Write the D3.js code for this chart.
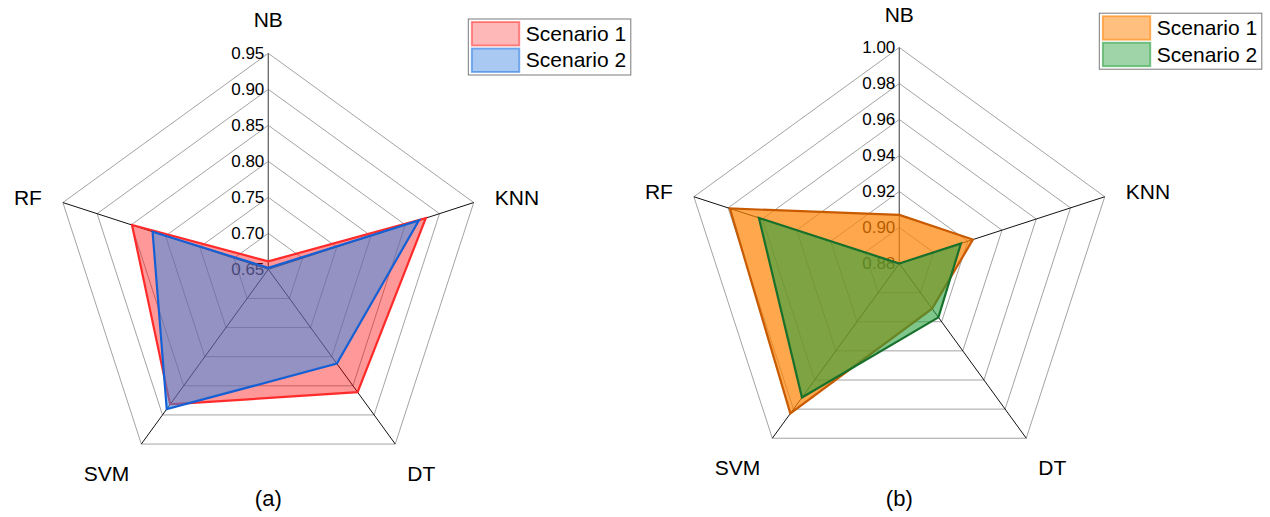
<!DOCTYPE html>
<html>
<head>
<meta charset="utf-8">
<script src="https://cdn.jsdelivr.net/npm/d3@7"></script>
<style>
  body { margin: 0; background: #fff; }
  svg { display: block; }
  text { font-family: "Liberation Sans", Arial, sans-serif; fill: #000; }
</style>
</head>
<body>
<svg id="chart" width="1270" height="517"></svg>
<script>
// Classifier axes, clockwise from the top
const categories = ["NB", "KNN", "DT", "SVM", "RF"];
const seriesNames = ["Scenario 1", "Scenario 2"];

// Panel (a) scores
const scoresA1 = [0.661, 0.880, 0.861, 0.882, 0.849];
const scoresA2 = [0.652, 0.870, 0.812, 0.890, 0.819];
// Panel (b) scores
const scoresB1 = [0.907, 0.923, 0.911, 0.983, 0.979];
const scoresB2 = [0.880, 0.916, 0.917, 0.972, 0.962];

// Radial tick labels
const ticksA = ["0.65", "0.70", "0.75", "0.80", "0.85", "0.90", "0.95"];
const ticksB = ["0.88", "0.90", "0.92", "0.94", "0.96", "0.98", "1.00"];

const panelTitles = ["(a)", "(b)"];

const svg = d3.select("#chart");
const R = 216;
const step = 2 * Math.PI / categories.length;

// Where each category name sits relative to its outer vertex
const labelPlace = [
  { anchor: "middle", dx: 0,   dy: -26 },
  { anchor: "start",  dx: 21,  dy: 2 },
  { anchor: "start",  dx: 12,  dy: 37 },
  { anchor: "end",    dx: -12, dy: 37 },
  { anchor: "end",    dx: -21, dy: 2 }
];

const panels = [
  {
    cx: 268.3, cy: 269.3, ticks: ticksA, title: panelTitles[0],
    series: [scoresA1, scoresA2],
    fills: ["rgb(255,0,0)", "rgb(40,140,235)"],
    fillOpacity: [0.4, 0.5],
    strokes: ["#ff2b2b", "#1560d4"],
    legendFill: ["rgb(255,0,0)", "rgb(40,120,225)"],
    legendFillOpacity: [0.28, 0.4],
    legendStrokeOpacity: [0.45, 0.6]
  },
  {
    cx: 899.3, cy: 263.5, ticks: ticksB, title: panelTitles[1],
    series: [scoresB1, scoresB2],
    fills: ["rgb(255,130,0)", "rgb(40,160,60)"],
    fillOpacity: [0.7, 0.6],
    strokes: ["#c85a00", "#17702c"],
    legendFill: ["rgb(255,130,0)", "rgb(40,160,60)"],
    legendFillOpacity: [0.5, 0.45],
    legendStrokeOpacity: [0.6, 0.6]
  }
];

panels.forEach(p => {
  const tv = p.ticks.map(Number);
  const r = d3.scaleLinear().domain([tv[0], tv[tv.length - 1]]).range([0, R]);
  const g = svg.append("g").attr("transform", `translate(${p.cx},${p.cy})`);

  const vertex = (i, rad) => [rad * Math.sin(i * step), -rad * Math.cos(i * step)];

  // Grid rings
  const ring = d3.lineRadial().angle((d, i) => i * step).radius(d => r(d)).curve(d3.curveLinearClosed);
  g.selectAll("path.ring").data(tv.slice(1)).join("path")
    .attr("class", "ring")
    .attr("d", t => ring(categories.map(() => t)))
    .attr("fill", "none")
    .attr("stroke", "#8c8c8c")
    .attr("stroke-width", 0.8);

  // Spokes
  categories.forEach((c, i) => {
    const [x, y] = vertex(i, R);
    g.append("line")
      .attr("x1", 0).attr("y1", 0).attr("x2", x).attr("y2", y)
      .attr("stroke", i === 0 ? "#666" : "#111")
      .attr("stroke-width", i === 0 ? 1.3 : 1);
  });

  // Tick labels along the NB axis
  g.selectAll("text.tick").data(p.ticks).join("text")
    .attr("class", "tick")
    .attr("x", -4)
    .attr("y", t => -r(+t))
    .attr("dy", "0.35em")
    .attr("text-anchor", "end")
    .style("font-size", "17px")
    .text(t => t);

  // Series polygons
  const shape = d3.lineRadial().angle((d, i) => i * step).radius(d => r(d)).curve(d3.curveLinearClosed);
  p.series.forEach((vals, s) => {
    g.append("path")
      .attr("d", shape(vals))
      .attr("fill", p.fills[s])
      .attr("fill-opacity", p.fillOpacity[s])
      .attr("stroke", p.strokes[s])
      .attr("stroke-width", 2.2)
      .attr("stroke-linejoin", "miter");
  });

  // Category names
  categories.forEach((c, i) => {
    const [x, y] = vertex(i, R);
    const lp = labelPlace[i];
    g.append("text")
      .attr("x", x + lp.dx).attr("y", y + lp.dy)
      .attr("text-anchor", lp.anchor)
      .style("font-size", "21px")
      .text(c);
  });

  // Legend
  const lg = g.append("g").attr("transform", `translate(200,${-250.3})`);
  lg.append("rect")
    .attr("x", 0).attr("y", 0).attr("width", 162.5).attr("height", 56)
    .attr("fill", "#fff").attr("stroke", "#7a7a7a").attr("stroke-width", 1);
  seriesNames.forEach((name, s) => {
    lg.append("rect")
      .attr("x", 3.5).attr("y", 3 + s * 26.5).attr("width", 47.5).attr("height", 23.5)
      .attr("fill", p.legendFill[s]).attr("fill-opacity", p.legendFillOpacity[s])
      .attr("stroke", p.legendFill[s]).attr("stroke-opacity", p.legendStrokeOpacity[s])
      .attr("stroke-width", 1.8);
    lg.append("text")
      .attr("x", 57.5).attr("y", 22 + s * 26.5)
      .style("font-size", "21px")
      .text(name);
  });

  // Panel caption
  svg.append("text")
    .attr("x", p.cx).attr("y", 505.5)
    .attr("text-anchor", "middle")
    .style("font-size", "22px")
    .text(p.title);
});
</script>
</body>
</html>
